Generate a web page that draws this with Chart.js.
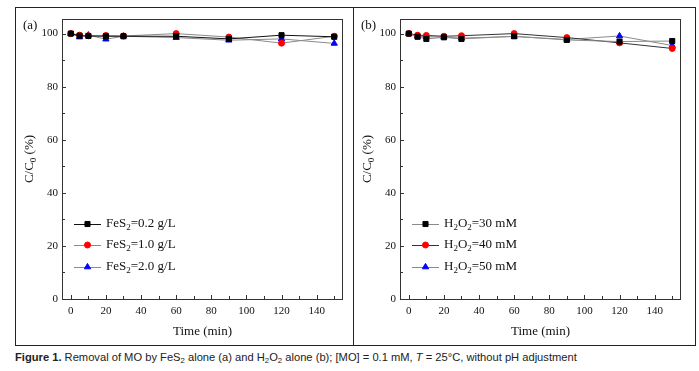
<!DOCTYPE html>
<html>
<head>
<meta charset="utf-8">
<script src="https://cdn.jsdelivr.net/npm/chart.js@4.4.1/dist/chart.umd.min.js"></script>
<style>
    body { margin: 0; background: #fff; width: 699px; height: 371px; position: relative; overflow: hidden; }
    #frame { position: absolute; left: 15px; top: 7px; width: 679px; height: 337px; border: 1px solid #222; }
    #divider { position: absolute; left: 353px; top: 7px; width: 1px; height: 338px; background: #222; }
    .pane { position: absolute; top: 8px; }
    #caption { position: absolute; left: 15px; top: 351px; font-family: "Liberation Sans", sans-serif; font-size: 11.5px; color: #222; white-space: nowrap; transform: scaleX(0.97); transform-origin: 0 0; }
    #caption sub { font-size: 8px; vertical-align: -2px; line-height: 0; }
</style>
</head>
<body>
<div id="frame"></div>
<div id="divider"></div>
<div class="pane" style="left:16px;width:337px;height:336px"><canvas id="chartA"></canvas></div>
<div class="pane" style="left:354px;width:340px;height:336px"><canvas id="chartB"></canvas></div>
<div id="caption"><b>Figure 1.</b> Removal of MO by FeS<sub>2</sub> alone (a) and H<sub>2</sub>O<sub>2</sub> alone (b); [MO] = 0.1 mM, <i>T</i> = 25°C, without pH adjustment</div>
<script>
// time points (min)
var times = [0, 5, 10, 20, 30, 60, 90, 120, 150];

// panel (a) FeS2 alone
var fes02 = [100, 99.2, 99.1, 99.0, 99.0, 99.0, 98.0, 99.4, 98.8];
var fes10 = [100, 99.4, 99.2, 99.3, 99.1, 100, 98.7, 96.4, 99.0];
var fes20 = [100, 98.7, 99.4, 97.9, 99.0, 98.5, 97.5, 98.0, 96.3];

// panel (b) H2O2 alone
var h2o2_30 = [100, 98.8, 98.0, 98.6, 98.0, 99.0, 97.6, 97.0, 97.2];
var h2o2_40 = [100, 99.4, 99.3, 99.0, 99.2, 100, 98.5, 96.5, 94.4];
var h2o2_50 = [100, 99.0, 98.8, 98.7, 98.3, 98.9, 97.8, 99.1, 95.5];

// tick labels
var xTicks = [0, 20, 40, 60, 80, 100, 120, 140];
var yTicks = [0, 20, 40, 60, 80, 100];

var labelsA = [["FeS", "2", "=0.2 g/L"], ["FeS", "2", "=1.0 g/L"], ["FeS", "2", "=2.0 g/L"]];
var labelsB = [["H", "2", "O", "2", "=30 mM"], ["H", "2", "O", "2", "=40 mM"], ["H", "2", "O", "2", "=50 mM"]];

var markerColors = ["#000000", "#ff0000", "#0000ff"];
var markerShapes = ["rect", "circle", "triangle"];
var markerSizes = [3.6, 3, 3.6];

var serif = "'Liberation Serif', 'Times New Roman', serif";

function pts(vals) {
    var out = [];
    for (var i = 0; i < times.length; i++) {
        out.push({x: times[i], y: vals[i]});
    }
    return out;
}

// draws text parts, odd indexes are subscripts
function drawParts(ctx, parts, x, y, size) {
    var cx = x;
    for (var i = 0; i < parts.length; i++) {
        var sub = i % 2 == 1;
        ctx.font = (sub ? Math.round(size * 0.7) : size) + "px " + serif;
        ctx.fillText(parts[i], cx, sub ? y + size * 0.28 : y);
        cx += ctx.measureText(parts[i]).width;
    }
    return cx - x;
}
function partsWidth(ctx, parts, size) {
    var w = 0;
    for (var i = 0; i < parts.length; i++) {
        var sub = i % 2 == 1;
        ctx.font = (sub ? Math.round(size * 0.7) : size) + "px " + serif;
        w += ctx.measureText(parts[i]).width;
    }
    return w;
}

var decorPlugin = {
    id: 'decor',
    afterDraw: function (chart) {
        var ctx = chart.ctx;
        var area = chart.chartArea;
        var xs = chart.scales.x, ys = chart.scales.y;
        var opt = chart.options.plugins.decor;
        ctx.save();
        ctx.strokeStyle = "#333";
        ctx.lineWidth = 1;
        ctx.strokeRect(area.left + 0.5, area.top + 0.5, area.right - area.left - 1, area.bottom - area.top);
        // inward ticks, minor ones every 10
        ctx.beginPath();
        for (var v = 0; v <= 150; v += 10) {
            var px = Math.round(xs.getPixelForValue(v)) + 0.5;
            var len = v % 20 == 0 ? 4 : 3;
            ctx.moveTo(px, area.bottom);
            ctx.lineTo(px, area.bottom - len);
        }
        for (var w = 0; w <= 100; w += 10) {
            var py = Math.round(ys.getPixelForValue(w)) + 0.5;
            var len2 = w % 20 == 0 ? 4 : 3;
            ctx.moveTo(area.left, py);
            ctx.lineTo(area.left + len2, py);
        }
        ctx.stroke();

        ctx.fillStyle = "#111";
        ctx.textBaseline = "middle";
        // panel letter
        ctx.font = "13px " + serif;
        ctx.textAlign = "left";
        ctx.fillText(opt.panel, 7, 18);
        // x title
        ctx.textAlign = "center";
        ctx.font = "13px " + serif;
        ctx.fillText("Time (min)", (area.left + area.right) / 2, area.bottom + 33);
        // y title
        ctx.save();
        ctx.translate(14, (area.top + area.bottom) / 2);
        ctx.rotate(-Math.PI / 2);
        ctx.textAlign = "left";
        var yt = ["C/C", "0", " (%)"];
        var tw = partsWidth(ctx, yt, 13);
        drawParts(ctx, yt, -tw / 2, 0, 13);
        ctx.restore();

        // legend
        var rows = [-75, -54, -32];
        ctx.textAlign = "left";
        for (var i = 0; i < 3; i++) {
            var ly = area.bottom + rows[i];
            var x0 = area.left + 12, x1 = area.left + 39;
            ctx.strokeStyle = opt.lineColors[i];
            ctx.beginPath();
            ctx.moveTo(x0, ly + 0.5);
            ctx.lineTo(x1, ly + 0.5);
            ctx.stroke();
            ctx.fillStyle = markerColors[i];
            ctx.strokeStyle = markerColors[i];
            Chart.helpers.drawPoint(ctx, {pointStyle: markerShapes[i], radius: markerSizes[i], borderWidth: 1}, (x0 + x1) / 2, ly);
            ctx.fillStyle = "#111";
            drawParts(ctx, opt.labels[i], area.left + 44, ly, 13);
        }
        ctx.restore();
    }
};

function makeChart(id, series, labels, lineColors, panel, rightPad) {
    var datasets = [];
    for (var i = 0; i < 3; i++) {
        datasets.push({
            data: pts(series[i]),
            borderColor: lineColors[i],
            borderWidth: 1,
            backgroundColor: markerColors[i],
            pointBorderColor: markerColors[i],
            pointStyle: markerShapes[i],
            pointRadius: markerSizes[i],
            pointBorderWidth: 1,
            tension: 0
        });
    }
    return new Chart(document.getElementById(id), {
        type: 'line',
        data: {datasets: datasets},
        options: {
            responsive: true,
            maintainAspectRatio: false,
            animation: false,
            layout: {padding: {left: 0, top: 11, right: rightPad, bottom: 0}},
            plugins: {
                legend: {display: false},
                tooltip: {enabled: false},
                decor: {panel: panel, labels: labels, lineColors: lineColors}
            },
            scales: {
                x: {
                    type: 'linear',
                    min: -5,
                    max: 155,
                    grid: {display: false, drawTicks: false},
                    border: {display: false},
                    afterFit: function (s) { s.height = 45; },
                    afterBuildTicks: function (s) {
                        s.ticks = xTicks.map(function (v) { return {value: v}; });
                    },
                    ticks: {
                        autoSkip: false,
                        maxRotation: 0,
                        padding: 6,
                        color: "#111",
                        font: {family: serif, size: 11}
                    }
                },
                y: {
                    min: 0,
                    max: 105.5,
                    grid: {display: false, drawTicks: false},
                    border: {display: false},
                    afterFit: function (s) { s.width = 46; },
                    afterBuildTicks: function (s) {
                        s.ticks = yTicks.map(function (v) { return {value: v}; });
                    },
                    ticks: {
                        autoSkip: false,
                        padding: 4,
                        color: "#111",
                        font: {family: serif, size: 11}
                    }
                }
            }
        },
        plugins: [decorPlugin]
    });
}

makeChart('chartA', [fes02, fes10, fes20], labelsA, ["#111", "#8a8a8a", "#8a8a8a"], "(a)", 10);
makeChart('chartB', [h2o2_30, h2o2_40, h2o2_50], labelsB, ["#8a8a8a", "#333", "#8a8a8a"], "(b)", 13);
</script>
</body>
</html>
